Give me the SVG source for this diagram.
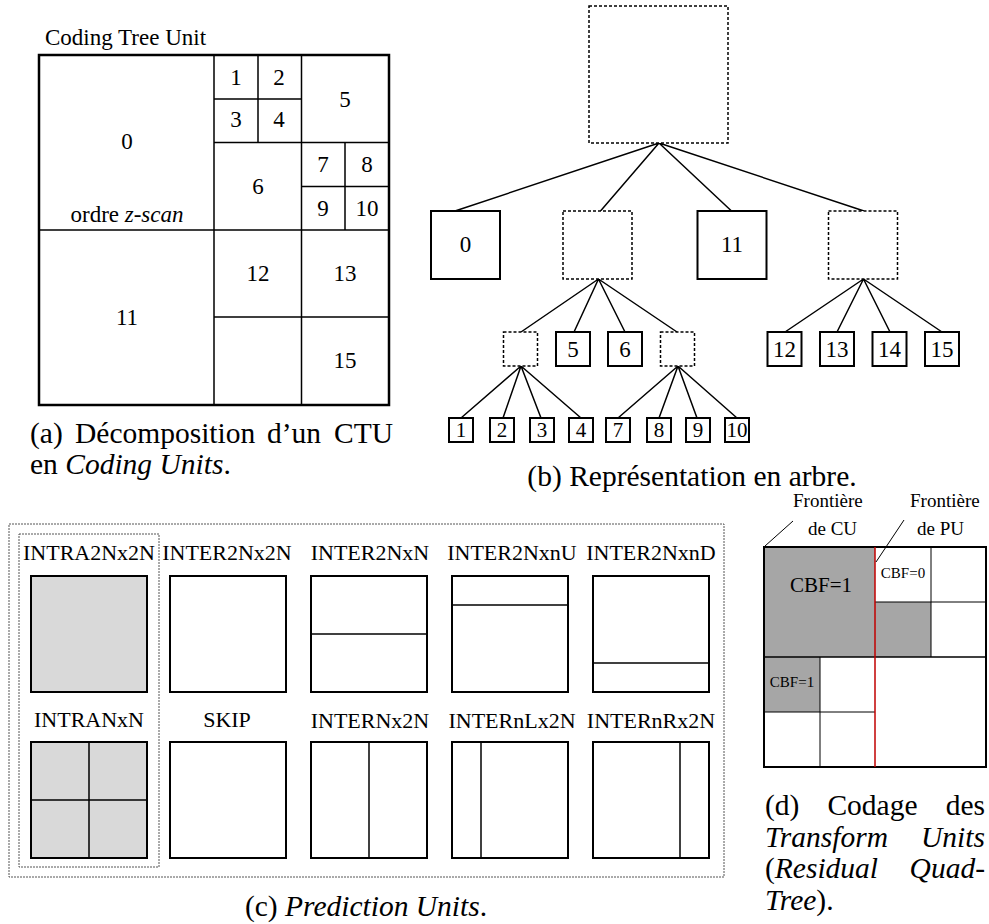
<svg xmlns="http://www.w3.org/2000/svg" width="989" height="924" viewBox="0 0 989 924" font-family="'Liberation Serif', 'DejaVu Serif', serif">
<style>
text { font-family: "Liberation Serif", "DejaVu Serif", serif; fill: #000; }
.lbl { font-size: 23px; text-anchor: middle; }
.lbl3 { font-size: 21px; text-anchor: middle; }
.cl { font-size: 22px; text-anchor: middle; }
.cap { font-size: 29.5px; }
.end { text-anchor: end; }
.mid { text-anchor: middle; }
.it { font-style: italic; }
.box { fill: #fff; stroke: #000; stroke-width: 2; }
.dbox { fill: #fff; stroke: #000; stroke-width: 1.5; stroke-dasharray: 3 2; }
.edge { stroke: #000; stroke-width: 1.5; fill: none; }
.grid { stroke: #000; stroke-width: 1.5; fill: none; }
.fine { stroke: #000; stroke-width: 1; fill: none; }
.grp { fill: none; stroke: #555; stroke-width: 1; stroke-dasharray: 2 1; }
.pu { fill: #fff; stroke: #000; stroke-width: 2; }
.intra { fill: #d9d9d9; stroke: #000; stroke-width: 2; }
.cbf { fill: #a6a6a6; stroke: none; }
</style>
<rect width="989" height="924" fill="#fff"/>

<!-- (a) CTU decomposition -->
<g id="ctu">
  <text x="45" y="45" style="font-size:23px">Coding Tree Unit</text>
  <rect x="39" y="55" width="350" height="350" fill="none" stroke="#000" stroke-width="2.5"/>
  <path class="grid" d="M214 55V405 M39 230H389 M301.5 55V405 M214 142.5H389 M258 55V142.5 M214 99H301.5 M345 142.5V230 M301.5 186.5H389 M214 317H389"/>
  <text class="lbl" x="127" y="149">0</text>
  <text class="lbl" x="127" y="222">ordre <tspan class="it">z-scan</tspan></text>
  <text class="lbl" x="127" y="325">11</text>
  <text class="lbl" x="236" y="85">1</text>
  <text class="lbl" x="279" y="85">2</text>
  <text class="lbl" x="236" y="127">3</text>
  <text class="lbl" x="279" y="127">4</text>
  <text class="lbl" x="345" y="107">5</text>
  <text class="lbl" x="258" y="194">6</text>
  <text class="lbl" x="323" y="172">7</text>
  <text class="lbl" x="367" y="172">8</text>
  <text class="lbl" x="323" y="216">9</text>
  <text class="lbl" x="367" y="216">10</text>
  <text class="lbl" x="258" y="281">12</text>
  <text class="lbl" x="345" y="281">13</text>
  <text class="lbl" x="345" y="368">15</text>
</g>
<g id="caption-a">
  <text class="cap" x="30" y="443">(a)</text>
  <text class="cap" x="75" y="443">Décomposition</text>
  <text class="cap" x="267" y="443">d’un</text>
  <text class="cap end" x="393" y="443">CTU</text>
  <text class="cap" x="30" y="474">en <tspan class="it">Coding Units</tspan>.</text>
</g>

<!-- (b) tree -->
<g id="connectors">
  <path class="edge" d="M659 143L455 211 M659 143L600.5 211 M659 143L731.5 211 M659 143L864 211"/>
  <path class="edge" d="M598.5 279L521 332 M598.5 279L574 332 M598.5 279L625 332 M598.5 279L677 332"/>
  <path class="edge" d="M863.5 279L785 332 M863.5 279L837 332 M863.5 279L890 332 M863.5 279L942 332"/>
  <path class="edge" d="M521 366L461 418 M521 366L503 418 M521 366L541 418 M521 366L581 418"/>
  <path class="edge" d="M678 366L618 418 M678 366L659 418 M678 366L697 418 M678 366L737 418"/>
</g>
<g id="n-root"><rect class="dbox" x="589" y="6" width="139" height="137"/></g>
<g id="n-0"><rect class="box" x="431" y="211" width="69" height="68"/><text class="lbl" x="465.5" y="252">0</text></g>
<g id="n-a"><rect class="dbox" x="563" y="211" width="69" height="68"/></g>
<g id="n-11"><rect class="box" x="697.5" y="211" width="69" height="68"/><text class="lbl" x="732" y="252">11</text></g>
<g id="n-b"><rect class="dbox" x="828.5" y="211" width="69" height="68"/></g>
<g id="n-a1"><rect class="dbox" x="503.5" y="332" width="34" height="34"/></g>
<g id="n-5"><rect class="box" x="556" y="332" width="34" height="34"/><text class="lbl" x="573" y="357">5</text></g>
<g id="n-6"><rect class="box" x="608" y="332" width="34" height="34"/><text class="lbl" x="625" y="357">6</text></g>
<g id="n-a4"><rect class="dbox" x="660.5" y="332" width="34" height="34"/></g>
<g id="n-12"><rect class="box" x="767.5" y="332" width="34" height="34"/><text class="lbl" x="784.5" y="357">12</text></g>
<g id="n-13"><rect class="box" x="820" y="332" width="34" height="34"/><text class="lbl" x="837" y="357">13</text></g>
<g id="n-14"><rect class="box" x="872.5" y="332" width="34" height="34"/><text class="lbl" x="889.5" y="357">14</text></g>
<g id="n-15"><rect class="box" x="925" y="332" width="34" height="34"/><text class="lbl" x="942" y="357">15</text></g>
<g id="n-1"><rect class="box" x="449" y="418" width="24" height="24"/><text class="lbl3" x="461" y="437">1</text></g>
<g id="n-2"><rect class="box" x="490" y="418" width="24" height="24"/><text class="lbl3" x="502" y="437">2</text></g>
<g id="n-3"><rect class="box" x="530" y="418" width="24" height="24"/><text class="lbl3" x="542" y="437">3</text></g>
<g id="n-4"><rect class="box" x="569" y="418" width="24" height="24"/><text class="lbl3" x="581" y="437">4</text></g>
<g id="n-7"><rect class="box" x="606" y="418" width="24" height="24"/><text class="lbl3" x="618" y="437">7</text></g>
<g id="n-8"><rect class="box" x="647" y="418" width="24" height="24"/><text class="lbl3" x="659" y="437">8</text></g>
<g id="n-9"><rect class="box" x="686" y="418" width="24" height="24"/><text class="lbl3" x="698" y="437">9</text></g>
<g id="n-10"><rect class="box" x="725" y="418" width="24" height="24"/><text class="lbl3" x="737" y="437">10</text></g>
<g id="caption-b">
  <text class="cap mid" x="692" y="486">(b) Représentation en arbre.</text>
</g>

<!-- (c) prediction units -->
<g id="pu">
  <rect class="grp" x="9" y="524" width="715" height="353"/>
  <rect class="grp" x="19" y="534" width="140" height="333"/>
  <text class="cl" x="89" y="560">INTRA2Nx2N</text>
  <text class="cl" x="227" y="560">INTER2Nx2N</text>
  <text class="cl" x="370" y="560">INTER2NxN</text>
  <text class="cl" x="512" y="560">INTER2NxnU</text>
  <text class="cl" x="651" y="560">INTER2NxnD</text>
  <rect class="intra" x="31" y="576" width="116" height="116"/>
  <rect class="pu" x="170" y="576" width="116" height="116"/>
  <rect class="pu" x="311" y="576" width="116" height="116"/>
  <path class="grid" d="M311 634H427"/>
  <rect class="pu" x="452" y="576" width="116" height="116"/>
  <path class="grid" d="M452 605H568"/>
  <rect class="pu" x="593" y="576" width="116" height="116"/>
  <path class="grid" d="M593 663H709"/>
  <text class="cl" x="89" y="727">INTRANxN</text>
  <text class="cl" x="227" y="727">SKIP</text>
  <text class="cl" x="370" y="728">INTERNx2N</text>
  <text class="cl" x="512" y="728">INTERnLx2N</text>
  <text class="cl" x="651" y="728">INTERnRx2N</text>
  <rect class="intra" x="31" y="742" width="116" height="116"/>
  <path class="grid" d="M89 742V858 M31 800H147"/>
  <rect class="pu" x="170" y="742" width="116" height="116"/>
  <rect class="pu" x="311" y="742" width="116" height="116"/>
  <path class="grid" d="M369 742V858"/>
  <rect class="pu" x="452" y="742" width="116" height="116"/>
  <path class="grid" d="M481 742V858"/>
  <rect class="pu" x="593" y="742" width="116" height="116"/>
  <path class="grid" d="M680 742V858"/>
</g>
<g id="caption-c">
  <text class="cap mid" x="366" y="916">(c) <tspan class="it">Prediction Units</tspan>.</text>
</g>

<!-- (d) residual quad-tree -->
<g id="rqt">
  <rect x="764" y="547" width="222" height="220" fill="#fff"/>
  <rect class="cbf" x="764" y="547" width="111" height="110"/>
  <rect class="cbf" x="875" y="602" width="56" height="55"/>
  <rect class="cbf" x="764" y="657" width="56" height="55"/>
  <path class="fine" d="M931 547V657 M875 602H986 M820 657V767 M764 712H875"/>
  <path class="grid" d="M764 657H986"/>
  <rect x="764" y="547" width="222" height="220" fill="none" stroke="#000" stroke-width="2"/>
  <path d="M875 547V767" stroke="#c00000" stroke-width="1.5" fill="none"/>
  <path class="fine" d="M765 546L793 521 M876 562L904 520"/>
  <text x="793" y="507" style="font-size:19px">Frontière</text>
  <text x="808" y="535" style="font-size:19px">de CU</text>
  <text x="910" y="507" style="font-size:19px">Frontière</text>
  <text x="917" y="535" style="font-size:19px">de PU</text>
  <text class="mid" x="821" y="592" style="font-size:21px">CBF=1</text>
  <text class="mid" x="903" y="578" style="font-size:15px">CBF=0</text>
  <text class="mid" x="792" y="687" style="font-size:15px">CBF=1</text>
</g>
<g id="caption-d">
  <text class="cap" x="765" y="815">(d)</text>
  <text class="cap mid" x="872.5" y="815">Codage</text>
  <text class="cap end" x="985" y="815">des</text>
  <text class="cap it" x="765" y="847">Transform</text>
  <text class="cap it end" x="985" y="847">Units</text>
  <text class="cap" x="765" y="878">(<tspan class="it">Residual</tspan></text>
  <text class="cap it end" x="985" y="878">Quad-</text>
  <text class="cap" x="765" y="910"><tspan class="it">Tree</tspan>).</text>
</g>
</svg>
